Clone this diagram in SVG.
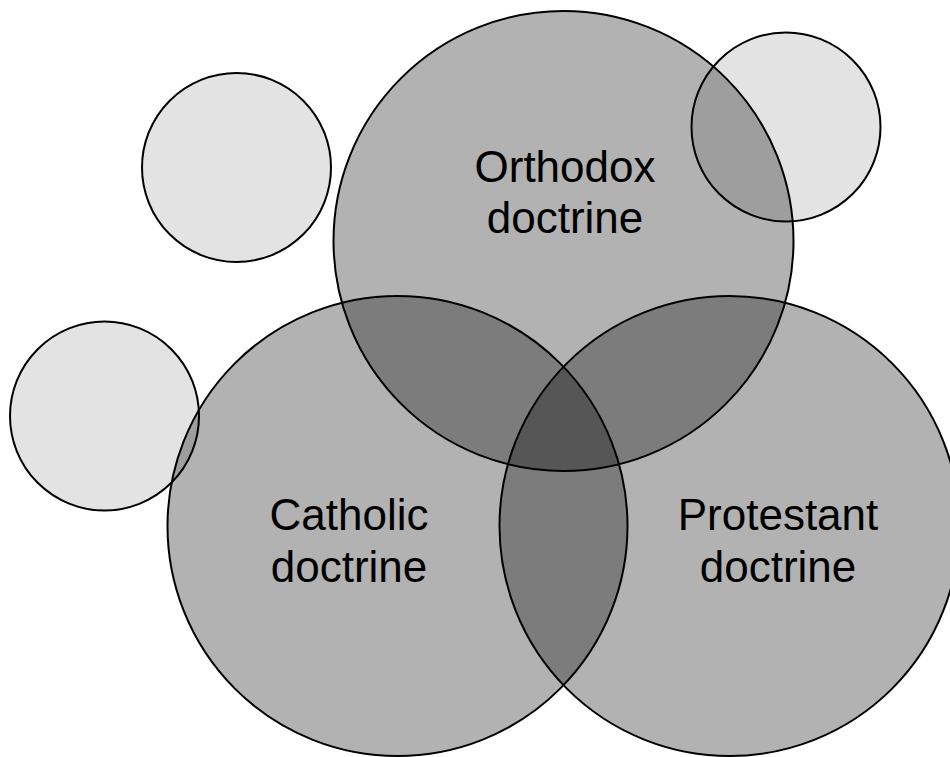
<svg xmlns="http://www.w3.org/2000/svg" width="950" height="757" viewBox="0 0 950 757">
  <style>
    .small { fill: #E3E3E3; stroke: #000; stroke-width: 2; }
    .big { fill: #000; fill-opacity: 0.3; stroke: #000; stroke-width: 2; }
    .lbl { font-family: "Liberation Sans", Arial, sans-serif; font-size: 44px; fill: #000; text-anchor: middle; }
  </style>
  <rect x="0" y="0" width="950" height="757" fill="#FFFFFF"/>
  <g id="small-top-left"><circle class="small" cx="236.5" cy="167.5" r="94.5"/></g>
  <g id="small-top-right"><circle class="small" cx="786" cy="127" r="94.5"/></g>
  <g id="small-left"><circle class="small" cx="104.5" cy="416" r="94.5"/></g>
  <g id="orthodox">
    <circle class="big" cx="563.5" cy="241" r="230"/>
  </g>
  <g id="catholic">
    <circle class="big" cx="397.5" cy="526" r="230"/>
  </g>
  <g id="protestant">
    <circle class="big" cx="729.5" cy="526" r="230"/>
  </g>
  <g id="labels">
    <text class="lbl" x="565" y="182">Orthodox</text>
    <text class="lbl" x="565" y="233">doctrine</text>
    <text class="lbl" x="349" y="530">Catholic</text>
    <text class="lbl" x="349" y="582">doctrine</text>
    <text class="lbl" x="778" y="530">Protestant</text>
    <text class="lbl" x="778" y="582">doctrine</text>
  </g>
  <g id="connectors"></g>
</svg>
